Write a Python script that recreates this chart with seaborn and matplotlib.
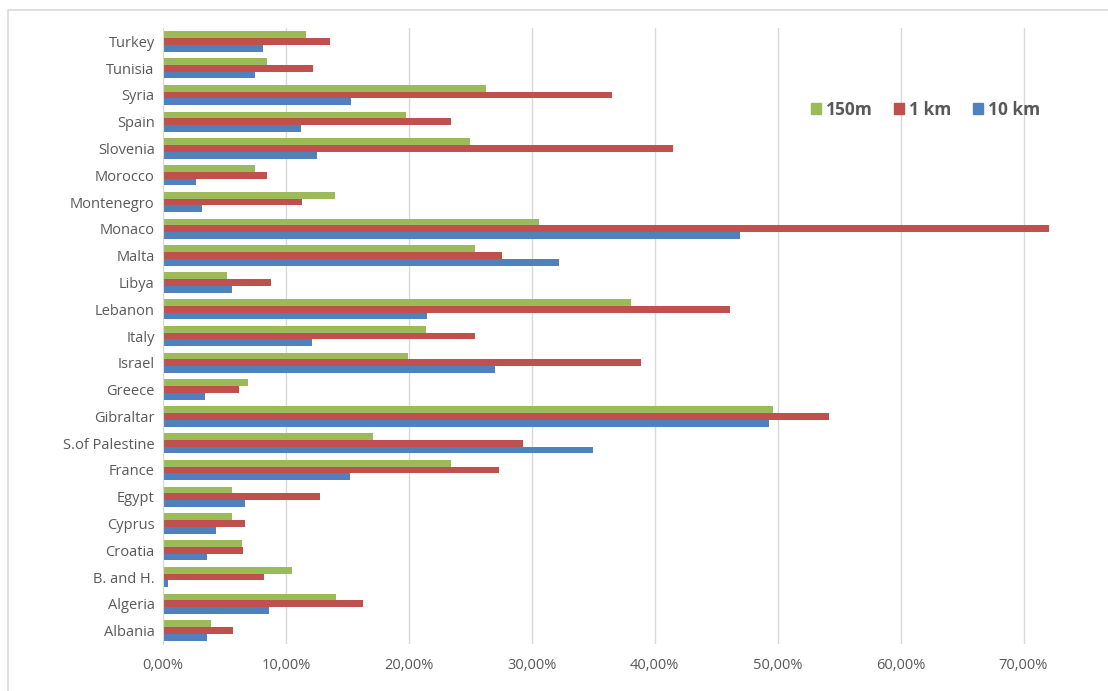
import matplotlib
matplotlib.use("Agg")
import matplotlib.pyplot as plt
import matplotlib.patches as mpatches
from matplotlib.ticker import FuncFormatter, MultipleLocator
import pandas as pd
import seaborn as sns

countries = ["Turkey", "Tunisia", "Syria", "Spain", "Slovenia", "Morocco", "Montenegro",
             "Monaco", "Malta", "Libya", "Lebanon", "Italy", "Israel", "Greece", "Gibraltar",
             "S.of Palestine", "France", "Egypt", "Cyprus", "Croatia", "B. and H.", "Algeria",
             "Albania"]
series = ["150m", "1 km", "10 km"]
# shares, in percent
v150m = [11.6, 8.5, 26.3, 19.8, 25.0, 7.5, 14.0, 30.6, 25.4, 5.2, 38.1, 21.4, 19.9, 6.9,
         49.6, 17.1, 23.4, 5.6, 5.6, 6.4, 10.5, 14.1, 3.9]
v1km = [13.6, 12.2, 36.5, 23.4, 41.5, 8.5, 11.3, 72.1, 27.6, 8.8, 46.1, 25.4, 38.9, 6.2,
        54.2, 29.3, 27.3, 12.8, 6.7, 6.5, 8.2, 16.3, 5.7]
v10km = [8.1, 7.5, 15.3, 11.2, 12.5, 2.7, 3.2, 46.9, 32.2, 5.6, 21.5, 12.1, 27.0, 3.4,
         49.3, 35.0, 15.2, 6.7, 4.3, 3.6, 0.4, 8.6, 3.6]
colors = ["#9BBB59", "#C0504D", "#4F81BD"]

rows = []
for name, vals in zip(series, [v150m, v1km, v10km]):
    for c, v in zip(countries, vals):
        rows.append({"country": c, "series": name, "share": v / 100})
df = pd.DataFrame(rows)

sns.set_style("white")
plt.rcParams["font.family"] = ["Open Sans", "DejaVu Sans"]

fig = plt.figure(figsize=(11.08, 6.91), dpi=100)
ax = fig.add_axes([163 / 1108, 1 - 644 / 691, (1085 - 163) / 1108, (644 - 28) / 691])

sns.barplot(data=df, x="share", y="country", hue="series", order=countries,
            hue_order=series, palette=colors, orient="h", width=0.76,
            saturation=1, linewidth=0, ax=ax, legend=False)

ax.set_xlim(0, 0.75)
ax.xaxis.set_major_locator(MultipleLocator(0.1))
ax.xaxis.set_major_formatter(FuncFormatter(lambda x, _: f"{x * 100:.2f}%".replace(".", ",")))
ax.grid(axis="x", color="#d9d9d9", linewidth=1)
ax.set_axisbelow(True)
ax.set_xlabel("")
ax.set_ylabel("")
for s in ["top", "right", "bottom"]:
    ax.spines[s].set_visible(False)
ax.spines["left"].set_color("#d9d9d9")
ax.tick_params(axis="both", length=0, labelsize=10.5, colors="#595959")
ax.tick_params(axis="x", pad=10)
ax.tick_params(axis="y", pad=6)

handles = [mpatches.Patch(color=c, label=s) for c, s in zip(colors, series)]
ax.legend(handles=handles, ncol=3, frameon=False, loc="center left",
          bbox_to_anchor=((795 - 163) / (1085 - 163), 1 - (110 - 28) / (644 - 28)),
          handlelength=0.6, handleheight=0.6, handletextpad=0.3, columnspacing=1.2,
          prop={"size": 12.5, "weight": "bold"}, labelcolor="#595959")

fig.add_artist(mpatches.Rectangle((8 / 1108, -0.01), 1.1, 1 - 10 / 691 + 0.01,
                                  transform=fig.transFigure, fill=False,
                                  edgecolor="#d9d9d9", linewidth=1.2))

fig.savefig("out.png", dpi=100)
